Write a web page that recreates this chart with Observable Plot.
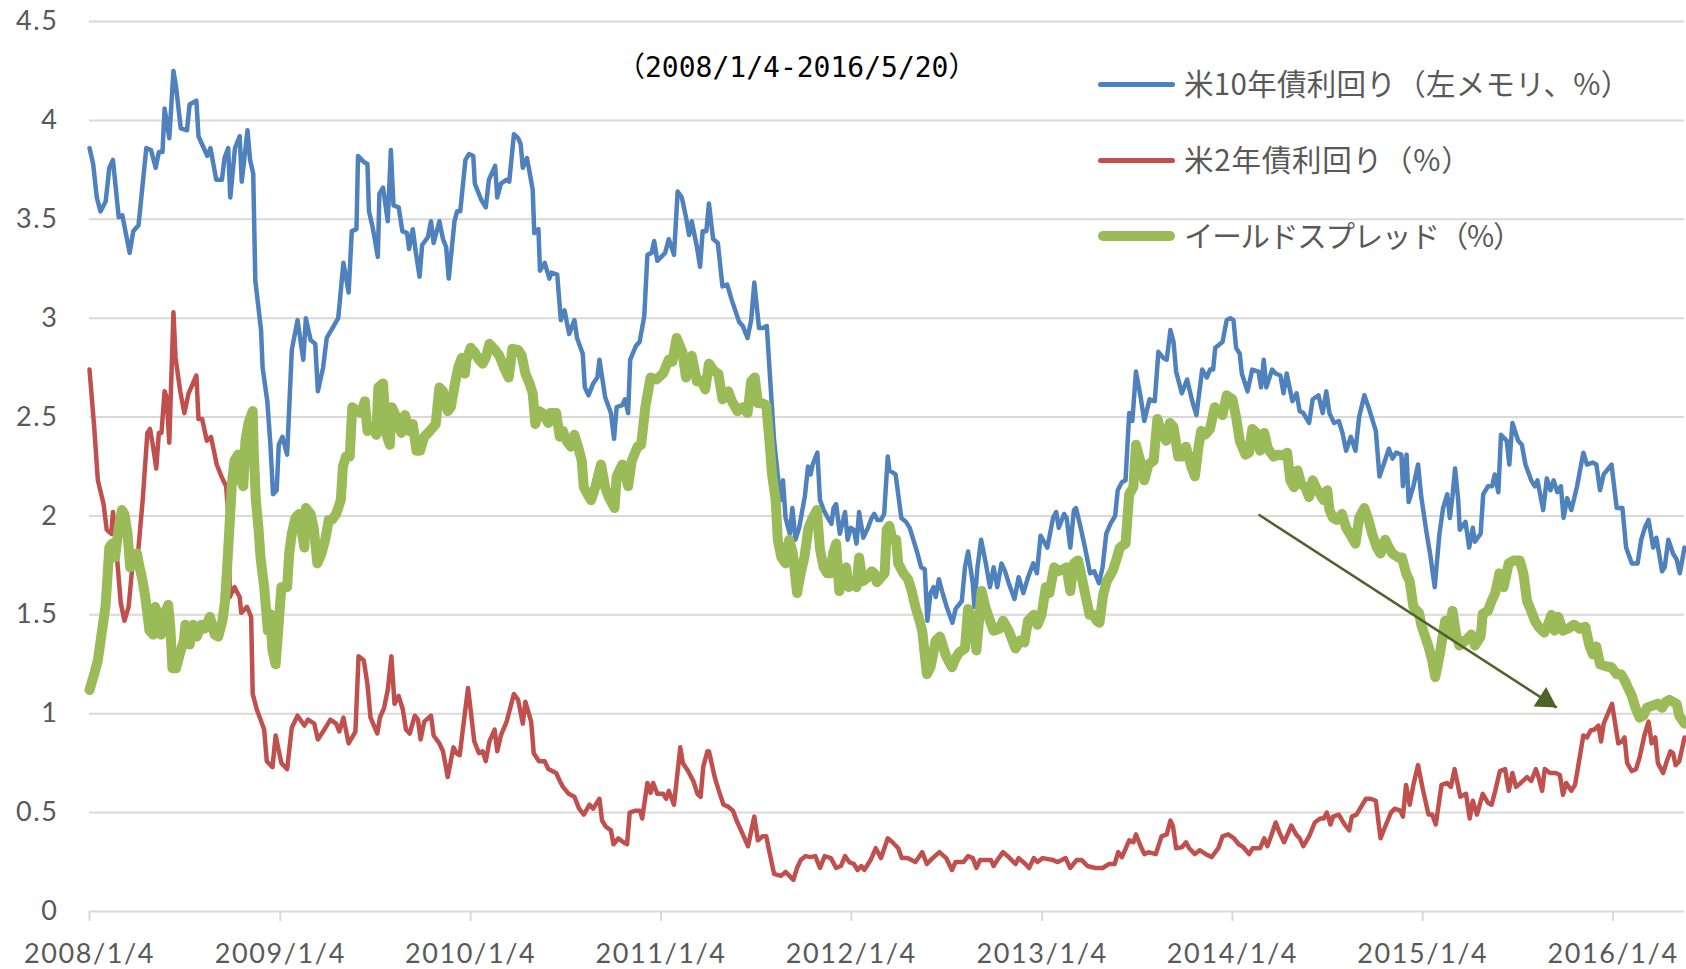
<!DOCTYPE html>
<html><head><meta charset="utf-8">
<script src="https://cdn.jsdelivr.net/npm/d3@7"></script>
<script src="https://cdn.jsdelivr.net/npm/@observablehq/plot@0.6"></script>
<style>
html,body{margin:0;padding:0;background:#fff;}
#wrap{position:relative;width:1686px;height:969px;overflow:hidden;background:#fff;}
#wrap svg{position:absolute;left:0;top:0;}
.title{position:absolute;font-family:"DejaVu Sans Mono","Noto Sans CJK JP";font-size:28px;line-height:28px;color:#000;white-space:nowrap;}
.title .p{font-family:"Noto Sans CJK JP";}
.lg{position:absolute;font-family:"Noto Sans CJK JP";font-size:29.5px;line-height:29.5px;color:#595959;white-space:nowrap;}
.sw{position:absolute;}
</style></head><body><div id="wrap"></div>
<script>
// ---------- data ----------
const titleText = "（2008/1/4-2016/5/20）";
const seriesNames = ["米10年債利回り（左メモリ、%）", "米2年債利回り（%）", "イールドスプレッド（%）"];
const seriesColors = ["#4F81BD", "#C0504D", "#9BBB59"];
const xDomain = ["2008-01-04", "2016-05-20"];
const xTickDates = ["2008-01-04","2009-01-04","2010-01-04","2011-01-04","2012-01-04","2013-01-04","2014-01-04","2015-01-04","2016-01-04"];
const xTickLabels = ["2008/1/4","2009/1/4","2010/1/4","2011/1/4","2012/1/4","2013/1/4","2014/1/4","2015/1/4","2016/1/4"];
const yTickValues = [0, 0.5, 1, 1.5, 2, 2.5, 3, 3.5, 4, 4.5];
const arrowDates = ["2014-02-23", "2015-09-18"];
const arrowValues = [2.007, 1.031];

const tenYear = [["2008-01-04",3.86],["2008-01-11",3.78],["2008-01-18",3.61],["2008-01-25",3.54],["2008-02-04",3.59],["2008-02-11",3.76],["2008-02-18",3.80],["2008-02-29",3.51],["2008-03-07",3.52],["2008-03-21",3.33],["2008-03-28",3.44],["2008-04-07",3.47],["2008-04-22",3.86],["2008-05-01",3.85],["2008-05-10",3.76],["2008-05-16",3.84],["2008-05-23",3.84],["2008-05-27",4.06],["2008-06-05",3.91],["2008-06-13",4.25],["2008-06-18",4.17],["2008-06-27",3.96],["2008-07-09",3.95],["2008-07-14",4.08],["2008-07-27",4.10],["2008-07-31",3.92],["2008-08-17",3.82],["2008-08-23",3.86],["2008-09-03",3.70],["2008-09-14",3.70],["2008-09-19",3.81],["2008-09-26",3.86],["2008-09-30",3.61],["2008-10-09",3.86],["2008-10-18",3.92],["2008-10-22",3.69],["2008-11-02",3.95],["2008-11-07",3.80],["2008-11-13",3.73],["2008-11-17",3.19],["2008-11-28",2.94],["2008-12-01",2.75],["2008-12-10",2.58],["2008-12-16",2.36],["2008-12-21",2.11],["2008-12-28",2.13],["2009-01-01",2.36],["2009-01-08",2.40],["2009-01-17",2.31],["2009-01-26",2.84],["2009-02-06",2.99],["2009-02-17",2.79],["2009-02-22",3.00],["2009-03-03",2.89],["2009-03-12",2.87],["2009-03-17",2.63],["2009-03-27",2.75],["2009-04-03",2.90],["2009-04-14",2.95],["2009-04-25",3.00],["2009-05-05",3.28],["2009-05-15",3.13],["2009-05-21",3.44],["2009-05-30",3.45],["2009-06-02",3.82],["2009-06-13",3.79],["2009-06-20",3.78],["2009-06-23",3.54],["2009-06-30",3.46],["2009-07-10",3.31],["2009-07-13",3.63],["2009-07-20",3.66],["2009-07-29",3.49],["2009-08-04",3.85],["2009-08-09",3.57],["2009-08-19",3.56],["2009-08-26",3.44],["2009-09-04",3.43],["2009-09-08",3.35],["2009-09-15",3.45],["2009-09-21",3.33],["2009-09-28",3.21],["2009-10-03",3.37],["2009-10-14",3.41],["2009-10-20",3.49],["2009-10-25",3.38],["2009-11-05",3.49],["2009-11-12",3.40],["2009-11-18",3.36],["2009-11-23",3.20],["2009-12-04",3.49],["2009-12-09",3.54],["2009-12-15",3.54],["2009-12-25",3.80],["2010-01-01",3.83],["2010-01-09",3.82],["2010-01-12",3.68],["2010-01-24",3.60],["2010-02-02",3.56],["2010-02-08",3.70],["2010-02-20",3.77],["2010-02-24",3.61],["2010-03-03",3.68],["2010-03-14",3.70],["2010-03-19",3.69],["2010-03-28",3.93],["2010-04-05",3.91],["2010-04-10",3.88],["2010-04-14",3.76],["2010-04-22",3.81],["2010-05-03",3.65],["2010-05-06",3.43],["2010-05-14",3.45],["2010-05-17",3.24],["2010-05-26",3.28],["2010-06-04",3.20],["2010-06-08",3.23],["2010-06-19",3.22],["2010-06-26",2.99],["2010-07-03",3.04],["2010-07-12",2.92],["2010-07-22",2.99],["2010-07-27",2.90],["2010-08-07",2.82],["2010-08-11",2.65],["2010-08-18",2.61],["2010-08-27",2.67],["2010-09-04",2.70],["2010-09-08",2.79],["2010-09-19",2.60],["2010-09-30",2.52],["2010-10-06",2.39],["2010-10-11",2.55],["2010-10-22",2.56],["2010-10-27",2.59],["2010-11-02",2.52],["2010-11-06",2.79],["2010-11-17",2.86],["2010-11-24",2.88],["2010-12-03",3.01],["2010-12-09",3.32],["2010-12-17",3.33],["2010-12-22",3.39],["2010-12-28",3.29],["2011-01-12",3.33],["2011-01-19",3.40],["2011-01-29",3.32],["2011-02-05",3.64],["2011-02-13",3.61],["2011-02-21",3.51],["2011-02-27",3.42],["2011-03-04",3.49],["2011-03-14",3.36],["2011-03-20",3.26],["2011-03-25",3.44],["2011-04-01",3.44],["2011-04-06",3.58],["2011-04-14",3.40],["2011-04-23",3.38],["2011-05-02",3.16],["2011-05-11",3.17],["2011-05-20",3.09],["2011-06-03",2.98],["2011-06-10",2.96],["2011-06-19",2.90],["2011-06-26",2.99],["2011-07-02",3.18],["2011-07-11",2.95],["2011-07-18",2.95],["2011-07-26",2.96],["2011-07-31",2.75],["2011-08-09",2.38],["2011-08-17",2.18],["2011-08-22",2.08],["2011-08-26",2.18],["2011-08-31",1.99],["2011-09-08",1.91],["2011-09-13",2.04],["2011-09-19",1.88],["2011-09-26",1.94],["2011-10-07",2.10],["2011-10-13",2.25],["2011-10-18",2.21],["2011-10-22",2.26],["2011-10-31",2.32],["2011-11-05",2.08],["2011-11-12",2.03],["2011-11-20",1.99],["2011-11-27",1.96],["2011-12-01",2.04],["2011-12-06",2.06],["2011-12-13",1.91],["2011-12-23",2.02],["2011-12-28",1.88],["2012-01-03",1.94],["2012-01-09",1.93],["2012-01-14",1.86],["2012-01-19",2.02],["2012-01-27",1.89],["2012-02-05",1.94],["2012-02-12",1.99],["2012-02-17",2.01],["2012-02-23",1.98],["2012-03-01",1.98],["2012-03-07",2.01],["2012-03-14",2.30],["2012-03-17",2.23],["2012-03-29",2.21],["2012-04-03",2.11],["2012-04-09",1.99],["2012-04-18",1.97],["2012-04-25",1.94],["2012-05-02",1.88],["2012-05-10",1.81],["2012-05-17",1.74],["2012-05-24",1.73],["2012-05-29",1.47],["2012-06-04",1.61],["2012-06-10",1.64],["2012-06-14",1.59],["2012-06-20",1.68],["2012-06-26",1.62],["2012-07-05",1.54],["2012-07-16",1.46],["2012-07-22",1.53],["2012-08-03",1.57],["2012-08-09",1.74],["2012-08-15",1.82],["2012-08-24",1.66],["2012-08-27",1.54],["2012-09-02",1.74],["2012-09-09",1.88],["2012-09-18",1.76],["2012-09-26",1.64],["2012-10-03",1.74],["2012-10-10",1.64],["2012-10-18",1.76],["2012-10-25",1.72],["2012-11-01",1.66],["2012-11-12",1.58],["2012-11-20",1.69],["2012-11-29",1.61],["2012-12-08",1.69],["2012-12-18",1.76],["2012-12-25",1.71],["2013-01-01",1.90],["2013-01-14",1.84],["2013-01-25",1.99],["2013-01-31",2.02],["2013-02-05",1.94],["2013-02-15",2.01],["2013-02-20",1.99],["2013-02-27",1.84],["2013-03-06",2.03],["2013-03-10",2.04],["2013-03-19",1.94],["2013-03-28",1.83],["2013-04-06",1.71],["2013-04-14",1.72],["2013-04-23",1.66],["2013-04-30",1.74],["2013-05-07",1.91],["2013-05-15",1.96],["2013-05-24",2.00],["2013-05-29",2.13],["2013-06-06",2.17],["2013-06-13",2.18],["2013-06-20",2.52],["2013-06-26",2.48],["2013-07-03",2.73],["2013-07-12",2.60],["2013-07-19",2.48],["2013-07-29",2.59],["2013-08-08",2.58],["2013-08-15",2.83],["2013-08-24",2.80],["2013-08-31",2.79],["2013-09-07",2.94],["2013-09-13",2.88],["2013-09-18",2.73],["2013-09-29",2.62],["2013-10-09",2.69],["2013-10-19",2.58],["2013-10-27",2.51],["2013-11-07",2.74],["2013-11-16",2.70],["2013-11-22",2.74],["2013-11-28",2.74],["2013-12-02",2.85],["2013-12-16",2.88],["2013-12-24",2.99],["2013-12-31",3.00],["2014-01-06",2.99],["2014-01-11",2.85],["2014-01-18",2.82],["2014-01-22",2.72],["2014-02-02",2.63],["2014-02-11",2.74],["2014-02-23",2.73],["2014-02-28",2.65],["2014-03-05",2.79],["2014-03-10",2.65],["2014-03-21",2.74],["2014-03-28",2.72],["2014-04-06",2.71],["2014-04-12",2.62],["2014-04-18",2.72],["2014-04-29",2.58],["2014-05-07",2.62],["2014-05-13",2.53],["2014-05-20",2.52],["2014-05-31",2.47],["2014-06-07",2.59],["2014-06-18",2.61],["2014-06-26",2.52],["2014-07-03",2.63],["2014-07-09",2.52],["2014-07-18",2.47],["2014-07-27",2.48],["2014-08-03",2.42],["2014-08-10",2.33],["2014-08-19",2.40],["2014-08-28",2.33],["2014-09-04",2.50],["2014-09-14",2.61],["2014-09-22",2.55],["2014-10-06",2.43],["2014-10-13",2.20],["2014-10-21",2.26],["2014-10-31",2.34],["2014-11-07",2.29],["2014-11-14",2.32],["2014-11-24",2.31],["2014-11-27",2.15],["2014-12-04",2.31],["2014-12-08",2.07],["2014-12-17",2.15],["2014-12-26",2.26],["2015-01-01",2.10],["2015-01-11",1.92],["2015-01-18",1.81],["2015-01-27",1.64],["2015-02-05",1.91],["2015-02-12",2.04],["2015-02-20",2.11],["2015-02-25",1.99],["2015-03-02",2.10],["2015-03-07",2.24],["2015-03-13",2.08],["2015-03-16",1.93],["2015-03-27",1.97],["2015-04-03",1.84],["2015-04-10",1.94],["2015-04-14",1.87],["2015-04-25",1.91],["2015-04-30",2.11],["2015-05-09",2.15],["2015-05-17",2.15],["2015-05-22",2.21],["2015-05-29",2.12],["2015-06-03",2.41],["2015-06-14",2.38],["2015-06-19",2.26],["2015-06-25",2.47],["2015-07-06",2.38],["2015-07-13",2.36],["2015-07-20",2.26],["2015-07-31",2.18],["2015-08-07",2.15],["2015-08-12",2.18],["2015-08-23",2.03],["2015-08-30",2.19],["2015-09-06",2.13],["2015-09-12",2.18],["2015-09-19",2.12],["2015-09-26",2.15],["2015-10-01",1.99],["2015-10-08",2.09],["2015-10-16",2.03],["2015-10-27",2.15],["2015-11-08",2.32],["2015-11-15",2.26],["2015-11-26",2.27],["2015-12-03",2.26],["2015-12-10",2.13],["2015-12-17",2.21],["2016-01-01",2.26],["2016-01-11",2.04],["2016-01-22",2.04],["2016-01-29",1.84],["2016-02-09",1.76],["2016-02-20",1.76],["2016-02-27",1.88],["2016-03-05",1.94],["2016-03-12",1.98],["2016-03-21",1.84],["2016-03-27",1.89],["2016-04-07",1.72],["2016-04-12",1.74],["2016-04-19",1.88],["2016-04-28",1.81],["2016-05-05",1.78],["2016-05-11",1.71],["2016-05-20",1.84]];

const twoYear = [["2008-01-04",2.74],["2008-01-13",2.45],["2008-01-20",2.18],["2008-01-31",2.06],["2008-02-06",1.93],["2008-02-15",1.91],["2008-02-18",2.02],["2008-02-26",1.78],["2008-03-04",1.56],["2008-03-11",1.47],["2008-03-19",1.54],["2008-03-26",1.74],["2008-04-06",1.81],["2008-04-15",2.08],["2008-04-24",2.42],["2008-04-29",2.44],["2008-05-05",2.35],["2008-05-11",2.24],["2008-05-16",2.42],["2008-05-21",2.42],["2008-05-27",2.63],["2008-05-31",2.60],["2008-06-05",2.37],["2008-06-13",3.03],["2008-06-17",2.80],["2008-06-26",2.63],["2008-07-04",2.52],["2008-07-12",2.62],["2008-07-27",2.71],["2008-07-31",2.49],["2008-08-07",2.49],["2008-08-16",2.38],["2008-08-24",2.40],["2008-09-04",2.26],["2008-09-13",2.20],["2008-09-22",2.15],["2008-09-27",1.99],["2008-09-29",1.59],["2008-10-08",1.64],["2008-10-18",1.59],["2008-10-21",1.51],["2008-11-01",1.54],["2008-11-09",1.49],["2008-11-12",1.10],["2008-11-20",1.02],["2008-12-04",0.92],["2008-12-09",0.76],["2008-12-20",0.73],["2008-12-26",0.89],["2009-01-06",0.75],["2009-01-17",0.72],["2009-01-26",0.93],["2009-02-06",0.99],["2009-02-19",0.94],["2009-02-26",0.97],["2009-03-10",0.95],["2009-03-17",0.87],["2009-03-27",0.91],["2009-04-03",0.94],["2009-04-10",0.97],["2009-04-21",0.95],["2009-04-27",0.91],["2009-05-05",0.98],["2009-05-15",0.85],["2009-05-28",0.91],["2009-06-03",1.29],["2009-06-13",1.27],["2009-06-20",1.15],["2009-06-26",0.98],["2009-07-09",0.90],["2009-07-14",0.98],["2009-07-22",1.03],["2009-07-29",1.12],["2009-08-05",1.29],["2009-08-11",1.05],["2009-08-19",1.09],["2009-08-27",1.02],["2009-09-02",0.92],["2009-09-09",0.90],["2009-09-19",0.99],["2009-09-25",0.97],["2009-09-30",0.87],["2009-10-07",0.96],["2009-10-20",0.99],["2009-10-25",0.89],["2009-11-05",0.85],["2009-11-12",0.81],["2009-11-21",0.68],["2009-12-02",0.83],["2009-12-08",0.80],["2009-12-14",0.79],["2009-12-20",0.92],["2009-12-30",1.13],["2010-01-11",0.86],["2010-01-20",0.80],["2010-01-27",0.81],["2010-02-02",0.76],["2010-02-09",0.86],["2010-02-19",0.92],["2010-02-24",0.81],["2010-03-03",0.89],["2010-03-14",0.96],["2010-03-28",1.10],["2010-04-05",1.07],["2010-04-14",0.95],["2010-04-19",1.06],["2010-04-30",0.96],["2010-05-05",0.80],["2010-05-15",0.76],["2010-05-26",0.76],["2010-06-02",0.72],["2010-06-17",0.70],["2010-06-24",0.66],["2010-06-30",0.63],["2010-07-11",0.595],["2010-07-22",0.58],["2010-07-31",0.52],["2010-08-09",0.49],["2010-08-20",0.54],["2010-08-27",0.52],["2010-09-08",0.57],["2010-09-13",0.46],["2010-09-20",0.43],["2010-09-30",0.41],["2010-10-05",0.34],["2010-10-14",0.37],["2010-10-24",0.35],["2010-10-31",0.34],["2010-11-05",0.50],["2010-11-16",0.51],["2010-11-25",0.51],["2010-11-29",0.47],["2010-12-09",0.65],["2010-12-15",0.60],["2010-12-20",0.65],["2010-12-28",0.595],["2011-01-08",0.595],["2011-01-14",0.57],["2011-01-19",0.61],["2011-01-29",0.54],["2011-02-10",0.83],["2011-02-15",0.75],["2011-02-25",0.71],["2011-03-07",0.66],["2011-03-15",0.595],["2011-03-21",0.58],["2011-03-26",0.73],["2011-04-03",0.81],["2011-04-06",0.81],["2011-04-17",0.68],["2011-04-25",0.61],["2011-05-04",0.54],["2011-05-13",0.53],["2011-05-22",0.51],["2011-05-29",0.46],["2011-06-10",0.39],["2011-06-20",0.33],["2011-07-02",0.48],["2011-07-09",0.36],["2011-07-18",0.38],["2011-07-25",0.38],["2011-07-31",0.30],["2011-08-09",0.19],["2011-08-22",0.18],["2011-08-31",0.20],["2011-09-15",0.16],["2011-09-22",0.22],["2011-09-29",0.26],["2011-10-08",0.28],["2011-10-18",0.275],["2011-10-27",0.28],["2011-11-05",0.22],["2011-11-14",0.28],["2011-11-26",0.27],["2011-12-06",0.22],["2011-12-15",0.23],["2011-12-23",0.28],["2011-12-31",0.25],["2012-01-09",0.24],["2012-01-16",0.21],["2012-01-23",0.23],["2012-01-29",0.21],["2012-02-10",0.26],["2012-02-20",0.32],["2012-03-01",0.27],["2012-03-14",0.37],["2012-03-23",0.35],["2012-04-03",0.32],["2012-04-10",0.27],["2012-04-21",0.27],["2012-05-06",0.25],["2012-05-19",0.30],["2012-05-28",0.24],["2012-06-08",0.27],["2012-06-21",0.30],["2012-07-04",0.27],["2012-07-15",0.21],["2012-07-22",0.25],["2012-08-06",0.25],["2012-08-15",0.28],["2012-08-24",0.27],["2012-08-31",0.22],["2012-09-07",0.26],["2012-09-28",0.26],["2012-10-03",0.23],["2012-10-10",0.26],["2012-10-21",0.30],["2012-11-01",0.275],["2012-11-14",0.24],["2012-11-20",0.27],["2012-12-03",0.24],["2012-12-10",0.22],["2012-12-19",0.27],["2012-12-26",0.25],["2013-01-05",0.27],["2013-01-25",0.26],["2013-02-03",0.25],["2013-02-18",0.27],["2013-02-27",0.22],["2013-03-11",0.26],["2013-03-21",0.26],["2013-04-01",0.23],["2013-04-16",0.22],["2013-04-30",0.22],["2013-05-12",0.24],["2013-05-23",0.24],["2013-05-30",0.30],["2013-06-06",0.275],["2013-06-12",0.31],["2013-06-20",0.36],["2013-06-28",0.35],["2013-07-03",0.39],["2013-07-12",0.33],["2013-07-19",0.29],["2013-07-27",0.30],["2013-08-10",0.29],["2013-08-21",0.38],["2013-08-31",0.39],["2013-09-07",0.46],["2013-09-12",0.43],["2013-09-18",0.32],["2013-09-29",0.325],["2013-10-07",0.35],["2013-10-13",0.32],["2013-10-24",0.29],["2013-11-02",0.31],["2013-11-14",0.29],["2013-11-25",0.275],["2013-12-08",0.32],["2013-12-16",0.38],["2013-12-27",0.39],["2014-01-07",0.37],["2014-01-16",0.34],["2014-01-25",0.325],["2014-02-05",0.29],["2014-02-12",0.32],["2014-02-26",0.32],["2014-03-06",0.37],["2014-03-12",0.33],["2014-03-19",0.38],["2014-03-28",0.45],["2014-04-04",0.40],["2014-04-13",0.35],["2014-04-18",0.38],["2014-04-27",0.435],["2014-05-06",0.39],["2014-05-13",0.37],["2014-05-20",0.33],["2014-05-31",0.38],["2014-06-11",0.45],["2014-06-21",0.47],["2014-06-28",0.47],["2014-07-04",0.50],["2014-07-11",0.44],["2014-07-16",0.48],["2014-07-27",0.49],["2014-08-07",0.44],["2014-08-16",0.41],["2014-08-21",0.48],["2014-08-30",0.49],["2014-09-08",0.53],["2014-09-17",0.57],["2014-09-26",0.57],["2014-10-06",0.56],["2014-10-15",0.37],["2014-10-24",0.43],["2014-11-04",0.50],["2014-11-11",0.52],["2014-11-22",0.51],["2014-11-27",0.48],["2014-12-03",0.64],["2014-12-10",0.54],["2014-12-17",0.64],["2014-12-26",0.74],["2015-01-04",0.62],["2015-01-15",0.49],["2015-01-22",0.49],["2015-01-29",0.44],["2015-02-09",0.64],["2015-02-20",0.65],["2015-02-27",0.63],["2015-03-06",0.72],["2015-03-17",0.58],["2015-03-28",0.595],["2015-04-04",0.47],["2015-04-10",0.56],["2015-04-18",0.49],["2015-04-29",0.595],["2015-05-09",0.55],["2015-05-16",0.54],["2015-05-23",0.61],["2015-06-01",0.71],["2015-06-11",0.72],["2015-06-18",0.61],["2015-06-25",0.70],["2015-07-02",0.63],["2015-07-11",0.65],["2015-07-23",0.68],["2015-07-31",0.66],["2015-08-09",0.72],["2015-08-14",0.68],["2015-08-21",0.61],["2015-08-26",0.72],["2015-09-05",0.70],["2015-09-16",0.70],["2015-09-24",0.69],["2015-09-30",0.59],["2015-10-06",0.65],["2015-10-16",0.61],["2015-10-23",0.64],["2015-11-01",0.78],["2015-11-08",0.89],["2015-11-15",0.88],["2015-11-22",0.915],["2015-11-29",0.92],["2015-12-07",0.94],["2015-12-12",0.86],["2015-12-17",0.95],["2015-12-25",1.00],["2016-01-02",1.05],["2016-01-08",0.95],["2016-01-14",0.85],["2016-01-21",0.86],["2016-01-26",0.88],["2016-01-31",0.75],["2016-02-09",0.71],["2016-02-17",0.72],["2016-02-24",0.78],["2016-03-04",0.89],["2016-03-12",0.96],["2016-03-18",0.85],["2016-03-25",0.88],["2016-03-30",0.75],["2016-04-09",0.70],["2016-04-16",0.76],["2016-04-23",0.81],["2016-04-28",0.80],["2016-05-03",0.74],["2016-05-10",0.76],["2016-05-20",0.88]];

const spread = [["2008-01-04",1.12],["2008-01-13",1.20],["2008-01-20",1.27],["2008-01-27",1.40],["2008-02-04",1.55],["2008-02-11",1.84],["2008-02-16",1.86],["2008-02-22",1.79],["2008-02-29",1.94],["2008-03-06",2.03],["2008-03-11",2.01],["2008-03-17",1.91],["2008-03-22",1.74],["2008-03-29",1.79],["2008-04-04",1.81],["2008-04-09",1.74],["2008-04-15",1.67],["2008-04-20",1.59],["2008-04-28",1.42],["2008-05-05",1.40],["2008-05-09",1.54],["2008-05-16",1.49],["2008-05-20",1.40],["2008-05-27",1.505],["2008-06-03",1.55],["2008-06-07",1.44],["2008-06-11",1.23],["2008-06-18",1.23],["2008-06-25",1.30],["2008-07-03",1.37],["2008-07-06",1.45],["2008-07-14",1.35],["2008-07-21",1.45],["2008-07-28",1.39],["2008-08-05",1.45],["2008-08-12",1.43],["2008-08-22",1.49],["2008-08-31",1.40],["2008-09-07",1.39],["2008-09-15",1.47],["2008-09-20",1.57],["2008-09-26",1.83],["2008-10-03",2.16],["2008-10-08",2.28],["2008-10-15",2.31],["2008-10-20",2.18],["2008-10-25",2.15],["2008-10-29",2.38],["2008-11-04",2.47],["2008-11-12",2.53],["2008-11-14",2.33],["2008-11-18",2.08],["2008-11-23",1.94],["2008-11-27",1.79],["2008-12-04",1.64],["2008-12-11",1.42],["2008-12-15",1.505],["2008-12-20",1.32],["2008-12-26",1.25],["2008-12-30",1.39],["2009-01-04",1.57],["2009-01-06",1.64],["2009-01-17",1.64],["2009-01-21",1.81],["2009-01-26",1.91],["2009-02-02",1.99],["2009-02-09",2.01],["2009-02-19",1.84],["2009-02-22",2.04],["2009-03-03",2.01],["2009-03-09",1.94],["2009-03-16",1.76],["2009-03-24",1.81],["2009-03-31",1.88],["2009-04-07",1.98],["2009-04-13",1.98],["2009-04-21",2.01],["2009-04-30",2.08],["2009-05-04",2.25],["2009-05-10",2.30],["2009-05-17",2.30],["2009-05-22",2.55],["2009-06-01",2.53],["2009-06-08",2.52],["2009-06-15",2.58],["2009-06-20",2.43],["2009-06-30",2.45],["2009-07-07",2.41],["2009-07-11",2.65],["2009-07-20",2.67],["2009-07-26",2.415],["2009-08-02",2.36],["2009-08-06",2.55],["2009-08-11",2.52],["2009-08-17",2.48],["2009-08-24",2.42],["2009-08-31",2.51],["2009-09-08",2.43],["2009-09-15",2.465],["2009-09-22",2.33],["2009-09-29",2.33],["2009-10-07",2.40],["2009-10-18",2.43],["2009-10-29",2.465],["2009-11-05",2.65],["2009-11-12",2.63],["2009-11-21",2.53],["2009-11-27",2.55],["2009-12-05",2.67],["2009-12-11",2.75],["2009-12-18",2.80],["2009-12-24",2.72],["2009-12-27",2.79],["2010-01-04",2.85],["2010-01-11",2.83],["2010-01-20",2.79],["2010-01-27",2.77],["2010-02-02",2.80],["2010-02-09",2.87],["2010-02-18",2.845],["2010-02-28",2.81],["2010-03-09",2.75],["2010-03-18",2.70],["2010-03-25",2.845],["2010-04-05",2.84],["2010-04-12",2.81],["2010-04-19",2.72],["2010-04-27",2.67],["2010-05-03",2.62],["2010-05-08",2.465],["2010-05-15",2.53],["2010-05-22",2.52],["2010-06-02",2.47],["2010-06-06",2.52],["2010-06-17",2.52],["2010-06-24",2.40],["2010-06-30",2.43],["2010-07-07",2.38],["2010-07-15",2.35],["2010-07-22",2.41],["2010-07-29",2.35],["2010-08-05",2.28],["2010-08-09",2.145],["2010-08-16",2.11],["2010-08-23",2.08],["2010-08-31",2.145],["2010-09-11",2.26],["2010-09-19",2.145],["2010-09-26",2.095],["2010-10-07",2.04],["2010-10-11",2.20],["2010-10-22",2.26],["2010-11-02",2.15],["2010-11-09",2.28],["2010-11-20",2.35],["2010-11-27",2.36],["2010-12-05",2.55],["2010-12-15",2.70],["2010-12-26",2.69],["2011-01-08",2.72],["2011-01-19",2.79],["2011-01-26",2.78],["2011-02-03",2.90],["2011-02-14",2.83],["2011-02-21",2.70],["2011-03-04",2.81],["2011-03-14",2.68],["2011-03-22",2.685],["2011-03-30",2.64],["2011-04-06",2.77],["2011-04-17",2.73],["2011-04-24",2.72],["2011-05-02",2.59],["2011-05-13",2.63],["2011-05-20",2.58],["2011-05-31",2.53],["2011-06-10",2.55],["2011-06-19",2.52],["2011-06-26",2.68],["2011-07-03",2.70],["2011-07-09",2.57],["2011-07-16",2.57],["2011-07-25",2.56],["2011-07-31",2.38],["2011-08-05",2.21],["2011-08-12",2.08],["2011-08-16",1.88],["2011-08-23",1.79],["2011-08-31",1.76],["2011-09-07",1.88],["2011-09-14",1.81],["2011-09-22",1.61],["2011-09-29",1.71],["2011-10-06",1.79],["2011-10-14",1.94],["2011-10-21",1.985],["2011-10-30",2.03],["2011-11-05",1.83],["2011-11-12",1.74],["2011-11-19",1.71],["2011-11-25",1.71],["2011-11-30",1.81],["2011-12-06",1.86],["2011-12-12",1.62],["2011-12-19",1.69],["2011-12-25",1.74],["2011-12-30",1.64],["2012-01-06",1.66],["2012-01-14",1.64],["2012-01-19",1.79],["2012-01-26",1.67],["2012-02-05",1.69],["2012-02-12",1.72],["2012-02-17",1.71],["2012-02-22",1.665],["2012-03-01",1.69],["2012-03-08",1.71],["2012-03-12",1.93],["2012-03-17",1.95],["2012-03-23",1.88],["2012-03-30",1.88],["2012-04-03",1.76],["2012-04-13",1.71],["2012-04-22",1.68],["2012-04-29",1.62],["2012-05-06",1.54],["2012-05-14",1.47],["2012-05-19",1.42],["2012-05-28",1.20],["2012-06-04",1.235],["2012-06-14",1.37],["2012-06-22",1.39],["2012-07-04",1.29],["2012-07-15",1.235],["2012-07-22",1.28],["2012-07-29",1.31],["2012-08-09",1.33],["2012-08-15",1.53],["2012-08-24",1.48],["2012-08-31",1.32],["2012-09-10",1.62],["2012-09-17",1.54],["2012-09-26",1.47],["2012-10-03",1.42],["2012-10-14",1.43],["2012-10-21",1.47],["2012-11-01",1.42],["2012-11-14",1.33],["2012-11-23",1.37],["2012-12-01",1.36],["2012-12-08",1.47],["2012-12-19",1.50],["2012-12-26",1.45],["2013-01-03",1.50],["2013-01-11",1.64],["2013-01-18",1.61],["2013-01-27",1.74],["2013-02-03",1.72],["2013-02-13",1.73],["2013-02-20",1.74],["2013-02-27",1.62],["2013-03-06",1.76],["2013-03-14",1.775],["2013-03-21",1.69],["2013-03-28",1.60],["2013-04-05",1.50],["2013-04-12",1.50],["2013-04-19",1.47],["2013-04-24",1.46],["2013-05-01",1.60],["2013-05-08",1.67],["2013-05-19",1.72],["2013-05-26",1.775],["2013-06-02",1.84],["2013-06-13",1.86],["2013-06-20",2.11],["2013-06-28",2.145],["2013-07-03",2.36],["2013-07-11",2.28],["2013-07-19",2.18],["2013-07-27",2.26],["2013-08-06",2.28],["2013-08-13",2.49],["2013-08-21",2.42],["2013-08-30",2.38],["2013-09-06",2.47],["2013-09-13",2.45],["2013-09-22",2.30],["2013-09-29",2.30],["2013-10-07",2.35],["2013-10-17",2.25],["2013-10-24",2.20],["2013-10-31",2.35],["2013-11-05",2.43],["2013-11-12",2.41],["2013-11-22",2.44],["2013-12-01",2.55],["2013-12-08",2.53],["2013-12-16",2.51],["2013-12-24",2.61],["2014-01-04",2.59],["2014-01-11",2.50],["2014-01-18",2.38],["2014-01-29",2.31],["2014-02-05",2.32],["2014-02-11",2.44],["2014-02-19",2.42],["2014-02-26",2.33],["2014-03-06",2.42],["2014-03-13",2.34],["2014-03-24",2.30],["2014-04-02",2.31],["2014-04-12",2.305],["2014-04-19",2.32],["2014-04-25",2.18],["2014-05-02",2.145],["2014-05-09",2.23],["2014-05-16",2.16],["2014-05-23",2.15],["2014-05-31",2.095],["2014-06-07",2.18],["2014-06-14",2.14],["2014-06-21",2.11],["2014-06-28",2.08],["2014-07-05",2.13],["2014-07-09",2.03],["2014-07-16",1.99],["2014-07-23",1.98],["2014-08-02",2.01],["2014-08-10",1.94],["2014-08-17",1.91],["2014-08-28",1.86],["2014-09-04",1.99],["2014-09-14",2.04],["2014-09-22",1.98],["2014-09-29",1.91],["2014-10-08",1.84],["2014-10-15",1.81],["2014-10-24",1.88],["2014-10-31",1.84],["2014-11-07",1.81],["2014-11-18",1.79],["2014-11-25",1.79],["2014-12-03",1.71],["2014-12-10",1.67],["2014-12-17",1.54],["2014-12-28",1.51],["2015-01-01",1.45],["2015-01-15",1.34],["2015-01-22",1.27],["2015-01-28",1.185],["2015-02-05",1.29],["2015-02-16",1.47],["2015-02-23",1.40],["2015-03-02",1.52],["2015-03-09",1.40],["2015-03-15",1.345],["2015-03-27",1.37],["2015-04-07",1.40],["2015-04-14",1.345],["2015-04-25",1.39],["2015-04-29",1.505],["2015-05-09",1.52],["2015-05-16",1.57],["2015-05-23",1.61],["2015-05-31",1.71],["2015-06-08",1.64],["2015-06-18",1.76],["2015-06-28",1.775],["2015-07-09",1.775],["2015-07-16",1.71],["2015-07-23",1.57],["2015-07-31",1.52],["2015-08-07",1.47],["2015-08-14",1.44],["2015-08-25",1.41],["2015-09-01",1.45],["2015-09-08",1.50],["2015-09-14",1.42],["2015-09-21",1.49],["2015-09-30",1.42],["2015-10-10",1.43],["2015-10-21",1.45],["2015-11-01",1.43],["2015-11-12",1.44],["2015-11-19",1.35],["2015-11-26",1.30],["2015-12-03",1.34],["2015-12-10",1.25],["2015-12-21",1.24],["2016-01-01",1.235],["2016-01-11",1.20],["2016-01-19",1.20],["2016-01-26",1.17],["2016-02-02",1.13],["2016-02-09",1.09],["2016-02-16",1.03],["2016-02-24",0.98],["2016-03-02",0.99],["2016-03-09",1.03],["2016-03-19",1.04],["2016-03-30",1.05],["2016-04-07",1.03],["2016-04-14",1.06],["2016-04-21",1.07],["2016-04-28",1.06],["2016-05-05",1.05],["2016-05-10",0.99],["2016-05-20",0.95]];

// ---------- build ----------
const parse = d3.utcParse("%Y-%m-%d");
const toRows = (pairs, name) => pairs.map(([d, v]) => ({date: parse(d), value: v, series: name}));
const rows10 = toRows(tenYear, seriesNames[0]);
const rows2 = toRows(twoYear, seriesNames[1]);
const rowsS = toRows(spread, seriesNames[2]);
const tickMap = new Map(xTickDates.map((d, i) => [+parse(d), xTickLabels[i]]));
const arrowRow = [{x1: parse(arrowDates[0]), y1: arrowValues[0], x2: parse(arrowDates[1]), y2: arrowValues[1]}];
const arrowHead = [{x: parse(arrowDates[1]), y: arrowValues[1]}];
const arrowColor = "#4F6228";

const chart = Plot.plot({
  width: 1686,
  height: 969,
  marginLeft: 89,
  marginRight: 2,
  marginTop: 21,
  marginBottom: 58,
  style: {fontFamily: "Lato", fontSize: "27px", background: "#fff", letterSpacing: "1.6px"},
  x: {type: "utc", domain: xDomain.map(parse), label: null},
  y: {domain: [0, 4.5], label: null},
  marks: [
    Plot.ruleY(yTickValues, {stroke: "#d9d9d9", strokeWidth: 2}),
    Plot.axisY({ticks: yTickValues, tickSize: 0, tickPadding: 31, tickFormat: d => String(d), fill: "#595959", fontSize: 27, label: null}),
    Plot.axisX({ticks: xTickDates.map(parse), tickSize: 10, tickPadding: 22, tickFormat: d => tickMap.get(+d), stroke: "#d9d9d9", strokeWidth: 2, fill: "#595959", fontSize: 27, label: null}),
    Plot.line(rows10, {x: "date", y: "value", stroke: seriesColors[0], strokeWidth: 4.5, strokeLinejoin: "round", strokeLinecap: "round"}),
    Plot.line(rows2, {x: "date", y: "value", stroke: seriesColors[1], strokeWidth: 4.5, strokeLinejoin: "round", strokeLinecap: "round"}),
    Plot.line(rowsS, {x: "date", y: "value", stroke: seriesColors[2], strokeWidth: 10, strokeLinejoin: "round", strokeLinecap: "round"}),
    Plot.link(arrowRow, {x1: "x1", y1: "y1", x2: "x2", y2: "y2", stroke: arrowColor, strokeWidth: 2.5}),
    Plot.dot(arrowHead, {x: "x", y: "y", symbol: "triangle", r: 8.6, fill: arrowColor, stroke: "none", rotate: 122.9, dx: -11.25, dy: -7.28})
  ]
});

const wrap = document.getElementById("wrap");
wrap.appendChild(chart);

// title: full-width brackets from the CJK font, digits from a monospace font
const t = document.createElement("div");
t.className = "title";
const open = titleText.slice(0, 1), close = titleText.slice(-1), inner = titleText.slice(1, -1);
const s1 = document.createElement("span"); s1.className = "p"; s1.textContent = open;
const s2 = document.createElement("span"); s2.textContent = inner;
const s3 = document.createElement("span"); s3.className = "p"; s3.textContent = close;
t.append(s1, s2, s3);
t.style.left = "617px";
t.style.top = "51px";
wrap.appendChild(t);

const swWidths = [5, 5, 10];
const labelSpacing = ["0.3px", "0.8px", "-1.2px"];
seriesNames.forEach((name, i) => {
  const cy = 84 + i * 76;
  const sw = document.createElement("div");
  sw.className = "sw";
  sw.style.left = "1098px";
  sw.style.width = "77px";
  sw.style.height = swWidths[i] + "px";
  sw.style.top = (cy - swWidths[i] / 2) + "px";
  sw.style.background = seriesColors[i];
  sw.style.borderRadius = (swWidths[i] / 2) + "px";
  wrap.appendChild(sw);
  const lb = document.createElement("div");
  lb.className = "lg";
  lb.textContent = name;
  lb.style.left = "1184px";
  lb.style.letterSpacing = labelSpacing[i];
  lb.style.top = (cy - 16.5) + "px";
  wrap.appendChild(lb);
});
</script></body></html>
